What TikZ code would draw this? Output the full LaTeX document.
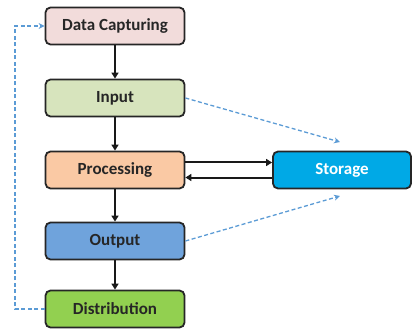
\documentclass[tikz,border=0pt]{standalone}
\usepackage{fontspec}
\setmainfont{Carlito}
\usetikzlibrary{arrows.meta}
\definecolor{cappink}{HTML}{F2DCDB}
\definecolor{ingreen}{HTML}{D7E4BD}
\definecolor{procorange}{HTML}{FAC9A4}
\definecolor{outblue}{HTML}{6FA3DC}
\definecolor{distgreen}{HTML}{92D050}
\definecolor{storblue}{HTML}{00A9E6}
\definecolor{dashblue}{HTML}{5B9BD5}
\definecolor{txt}{HTML}{262626}
\tikzset{
  box/.style={draw=black!85, line width=1.8pt, rounded corners=5pt, minimum width=139pt, minimum height=37pt, font=\bfseries\fontsize{17}{19}\selectfont, text=txt, inner sep=0pt},
  flow/.style={-{Triangle[length=6pt,width=7pt]}, line width=2pt, black!90},
  link/.style={-{Stealth[length=6pt,width=6pt]}, dash pattern=on 4pt off 2.5pt, line width=1.3pt, dashblue}
}
\begin{document}
\begin{tikzpicture}[x=1pt,y=-1pt]
\useasboundingbox (0,0) rectangle (413,329);
\node[box, fill=cappink] (cap) at (115,26) {Data Capturing};
\node[box, fill=ingreen] (in) at (115,98) {Input};
\node[box, fill=procorange] (proc) at (115,170) {Processing};
\node[box, fill=outblue] (out) at (115,241) {Output};
\node[box, fill=distgreen] (dist) at (115,309) {Distribution};
\node[box, fill=storblue, text=white, minimum width=138pt] (stor) at (342,170) {Storage};
\coordinate (sa) at (340,142);
\coordinate (sb) at (340,196);
\coordinate (fb1) at (15,309);
\coordinate (fb2) at (15,26);
\draw[flow] (cap) -- (in);
\draw[flow] (in) -- (proc);
\draw[flow] (proc) -- (out);
\draw[flow] (out) -- (dist);
\draw[flow] ([yshift=7.5pt]proc.east) -- ([yshift=7.5pt]stor.west);
\draw[flow] ([yshift=-7.5pt]stor.west) -- ([yshift=-7.5pt]proc.east);
\draw[link] (in.east) -- (sa);
\draw[link] (out.east) -- (sb);
\draw[link] (dist.west) -- (fb1) -- (fb2) -- (cap.west);
\end{tikzpicture}
\end{document}
